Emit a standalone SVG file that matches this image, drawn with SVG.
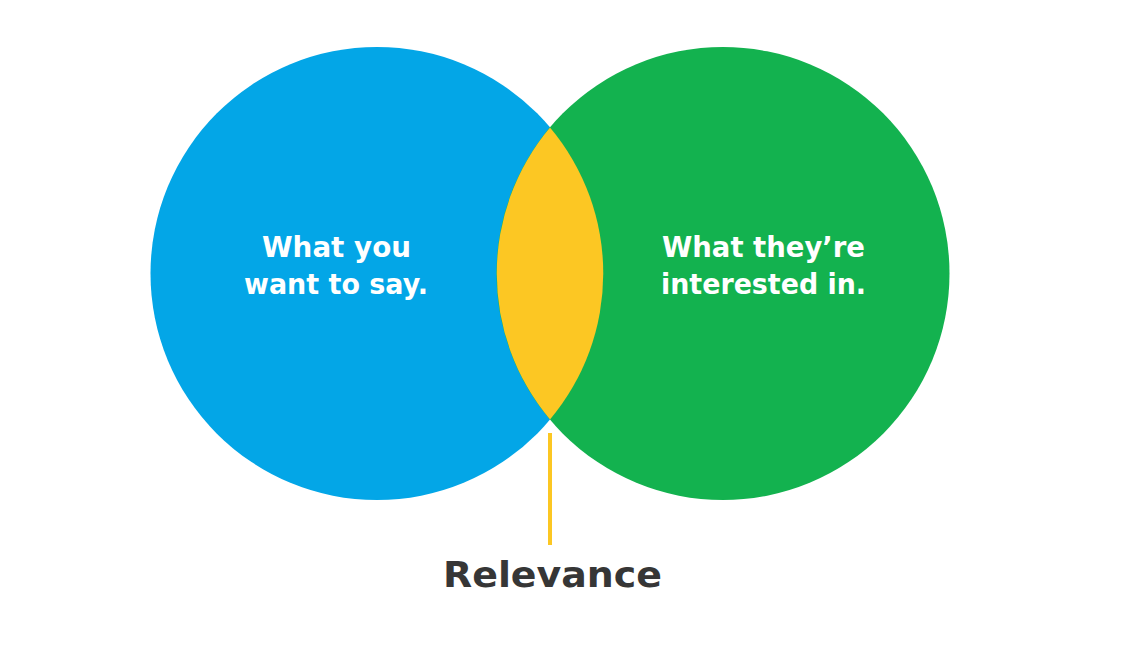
<svg xmlns="http://www.w3.org/2000/svg" width="1137" height="651" viewBox="0 0 1137 651">
  <style>
    .lbl { font-family: "DejaVu Sans", "Liberation Sans", sans-serif; font-weight: bold; font-size: 28px; fill: #ffffff; text-anchor: middle; }
    .title { font-family: "DejaVu Sans", "Liberation Sans", sans-serif; font-weight: bold; font-size: 35px; fill: #363636; text-anchor: middle; }
  </style>
  <rect width="1137" height="651" fill="#ffffff"/>
  <g id="left-circle">
    <circle cx="377" cy="273.5" r="226.5" fill="#03A6E7"/>
    <text class="lbl" x="336.5" y="257" textLength="149" lengthAdjust="spacingAndGlyphs">What you</text>
    <text class="lbl" x="336" y="294" textLength="184" lengthAdjust="spacingAndGlyphs">want to say.</text>
  </g>
  <g id="right-circle">
    <circle cx="723" cy="273.5" r="226.5" fill="#13B24F"/>
    <text class="lbl" x="763.5" y="257" textLength="203" lengthAdjust="spacingAndGlyphs">What they’re</text>
    <text class="lbl" x="763.5" y="294" textLength="205" lengthAdjust="spacingAndGlyphs">interested in.</text>
  </g>
  <g id="intersection">
    <path d="M550,127.6 A226.5,226.5 0 0,1 550,419.4 A226.5,226.5 0 0,1 550,127.6 Z" fill="#FCC723"/>
  </g>
  <g id="connectors">
    <line x1="550" y1="433" x2="550" y2="545" stroke="#FCC723" stroke-width="4"/>
  </g>
  <g id="relevance">
    <text class="title" x="552.5" y="587" textLength="219" lengthAdjust="spacingAndGlyphs">Relevance</text>
  </g>
</svg>
